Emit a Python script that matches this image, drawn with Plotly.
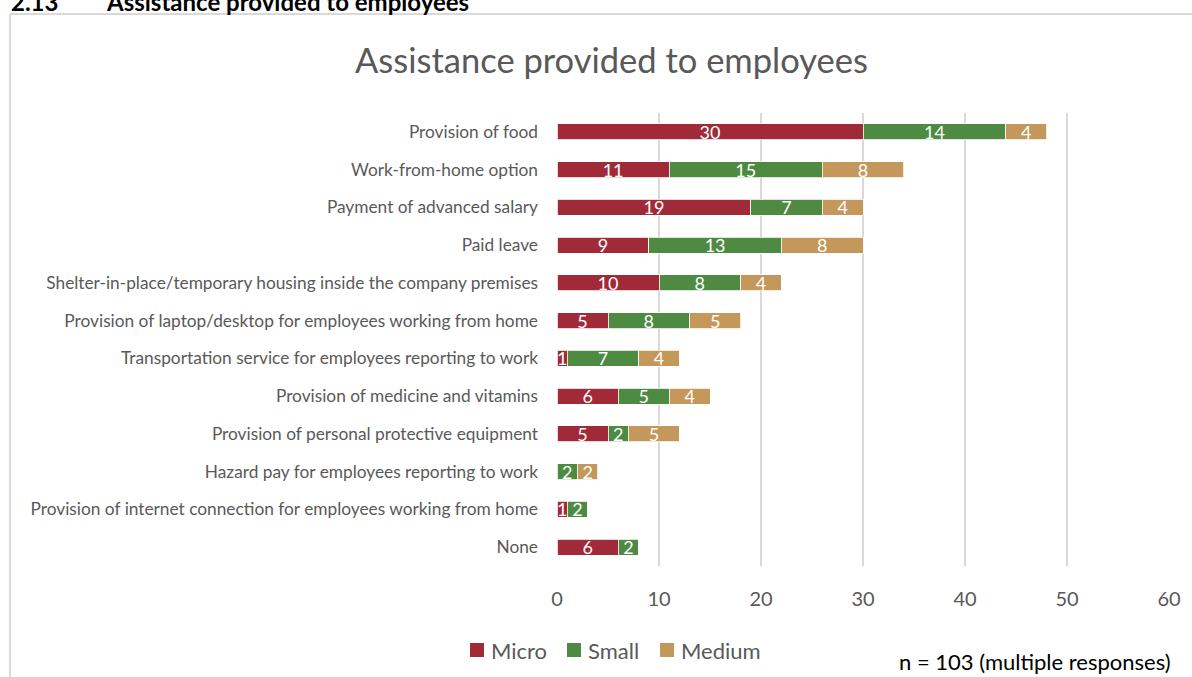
import plotly.graph_objects as go

categories = [
    "Provision of food",
    "Work-from-home option",
    "Payment of advanced salary",
    "Paid leave",
    "Shelter-in-place/temporary housing inside the company premises",
    "Provision of laptop/desktop for employees working from home",
    "Transportation service for employees reporting to work",
    "Provision of medicine and vitamins",
    "Provision of personal protective equipment",
    "Hazard pay for employees reporting to work",
    "Provision of internet connection for employees working from home",
    "None",
]
micro = [30, 11, 19, 9, 10, 5, 1, 6, 5, 0, 1, 6]
small = [14, 15, 7, 13, 8, 8, 7, 5, 2, 2, 2, 2]
medium = [4, 8, 4, 8, 4, 5, 4, 4, 5, 2, 0, 0]
x_ticks = [0, 10, 20, 30, 40, 50, 60]

series = [("Micro", micro, "#A12A38"), ("Small", small, "#4E8A42"), ("Medium", medium, "#C4975B")]

FONT = "Lato"
GREY = "#595959"

W, H = 1192, 677
L, R, T, B = 557, 23, 113, 111
pw, ph = W - L - R, H - T - B


def px_x(x):
    return (x - L) / pw


def px_y(y):
    return 1 - (y - T) / ph


fig = go.Figure()
for name, vals, color in series:
    fig.add_trace(go.Bar(
        y=categories, x=vals, name=name, orientation="h",
        marker=dict(color=color, line=dict(color="white", width=0.8)),
        text=[str(v) if v else "" for v in vals],
        textposition="inside", insidetextanchor="middle", textangle=0,
        textfont=dict(family=FONT, size=18, color="white"),
        hoverinfo="skip", showlegend=False,
    ))

# legend: colour key squares with their series names beside them
legend_square_left = [470, 567, 660]
legend_text_left = [489, 586, 679]
shapes = [
    dict(type="line", xref="paper", yref="paper", x0=px_x(10), x1=px_x(10),
         y0=px_y(14), y1=px_y(700), line=dict(color="#D9D9D9", width=2)),
    dict(type="line", xref="paper", yref="paper", x0=px_x(10), x1=px_x(1200),
         y0=px_y(14), y1=px_y(14), line=dict(color="#D9D9D9", width=2)),
]
annotations = [
    dict(text="<b>2.13</b>", xref="paper", yref="paper", x=px_x(9), y=px_y(1),
         xanchor="left", yanchor="middle", showarrow=False,
         font=dict(family=FONT, size=24, color="#000000")),
    dict(text="<b>Assistance provided to employees</b>", xref="paper", yref="paper",
         x=px_x(104), y=px_y(1), xanchor="left", yanchor="middle", showarrow=False,
         font=dict(family=FONT, size=24, color="#000000")),
    dict(text="Assistance provided to employees", xref="paper", yref="paper",
         x=px_x(611), y=px_y(59), xanchor="center", yanchor="middle", showarrow=False,
         font=dict(family=FONT, size=34.5, color=GREY)),
    dict(text="n = 103 (multiple responses)", xref="paper", yref="paper",
         x=px_x(1173), y=px_y(661), xanchor="right", yanchor="middle", showarrow=False,
         font=dict(family=FONT, size=22, color="#000000")),
]
for (name, _, color), sq, tx in zip(series, legend_square_left, legend_text_left):
    shapes.append(dict(type="rect", xref="paper", yref="paper",
                       x0=px_x(sq), x1=px_x(sq + 14), y0=px_y(657), y1=px_y(643),
                       fillcolor=color, line=dict(width=0)))
    annotations.append(dict(text=name, xref="paper", yref="paper", x=px_x(tx), y=px_y(650),
                            xanchor="left", yanchor="middle", showarrow=False,
                            font=dict(family=FONT, size=22, color=GREY)))

fig.update_layout(
    width=W, height=H,
    margin=dict(l=L, r=R, t=T, b=B, autoexpand=False),
    barmode="stack", bargap=0.58,
    paper_bgcolor="white", plot_bgcolor="white",
    font=dict(family=FONT, color=GREY),
    uniformtext=dict(minsize=18, mode="show"),
    showlegend=False,
    xaxis=dict(
        range=[0, 60], tickvals=x_ticks, showgrid=True, gridcolor="#D9D9D9", gridwidth=2,
        zeroline=False, showline=False, ticks="",
        tickfont=dict(family=FONT, size=20, color=GREY), ticklabelstandoff=19,
    ),
    yaxis=dict(
        autorange="reversed", showgrid=False, zeroline=False, showline=False, ticks="",
        tickfont=dict(family=FONT, size=17.3, color=GREY), ticklabelstandoff=18,
    ),
    shapes=shapes,
    annotations=annotations,
)

fig.write_html("out.html")
